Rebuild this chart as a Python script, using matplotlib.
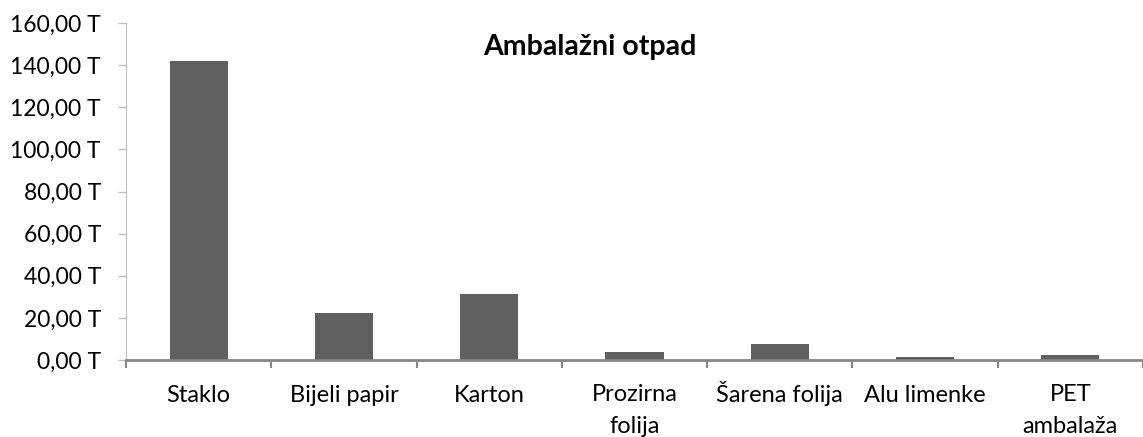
import numpy as np
import matplotlib
matplotlib.use("Agg")
import matplotlib.pyplot as plt
from matplotlib.ticker import FixedLocator, FuncFormatter
from matplotlib.transforms import ScaledTranslation

plt.rcParams['font.family'] = ['Lato', 'DejaVu Sans']

categories = ["Staklo", "Bijeli papir", "Karton", "Prozirna\nfolija",
              "Šarena folija", "Alu limenke", "PET\nambalaža"]
values = [142.0, 22.2, 31.2, 3.6, 7.7, 1.3, 2.4]
title = "Ambalažni otpad"

fig = plt.figure(figsize=(11.43, 4.37), dpi=100)
ax = fig.add_axes([126 / 1143, 77 / 437, 1 - 126 / 1143, 337 / 437])

x = np.arange(len(categories))
ax.bar(x, values, width=0.4, color="#606060", edgecolor="none", zorder=3)

ax.set_xlim(-0.5, len(categories) - 0.5)
ax.set_ylim(0, 160)
ax.set_yticks(np.arange(0, 161, 20))
ax.yaxis.set_major_formatter(FuncFormatter(lambda v, p: f"{v:.2f}".replace(".", ",") + " T"))

ax.set_xticks(x)
ax.set_xticklabels(categories, linespacing=1.6)
ax.xaxis.set_minor_locator(FixedLocator(np.arange(-0.5, len(categories), 1.0)))
ax.tick_params(axis="x", which="major", length=0, pad=30, labelsize=17)
ax.tick_params(axis="x", which="minor", length=6, width=1.5, color="#868686", direction="out")
ax.tick_params(axis="y", length=6, width=1, color="#bfbfbf", labelsize=16.5, pad=12)

# align on the first line's baseline (baseline va uses the last line,
# so push two-line labels down by one line)
for lbl in ax.get_xticklabels():
    lbl.set_verticalalignment("baseline")
    n_extra = lbl.get_text().count("\n")
    if n_extra:
        lbl.set_transform(lbl.get_transform() +
                          ScaledTranslation(0, -0.31 * n_extra, fig.dpi_scale_trans))

for s in ["top", "right"]:
    ax.spines[s].set_visible(False)
ax.spines["left"].set_color("#bfbfbf")
ax.spines["bottom"].set_color("#868686")
ax.spines["bottom"].set_linewidth(2)
ax.spines["bottom"].set_zorder(4)

fig.text(590 / 1143, 1 - 47 / 437, title, ha="center", va="center",
         fontsize=20.5, fontweight="bold")

fig.savefig("out.png", dpi=100)
